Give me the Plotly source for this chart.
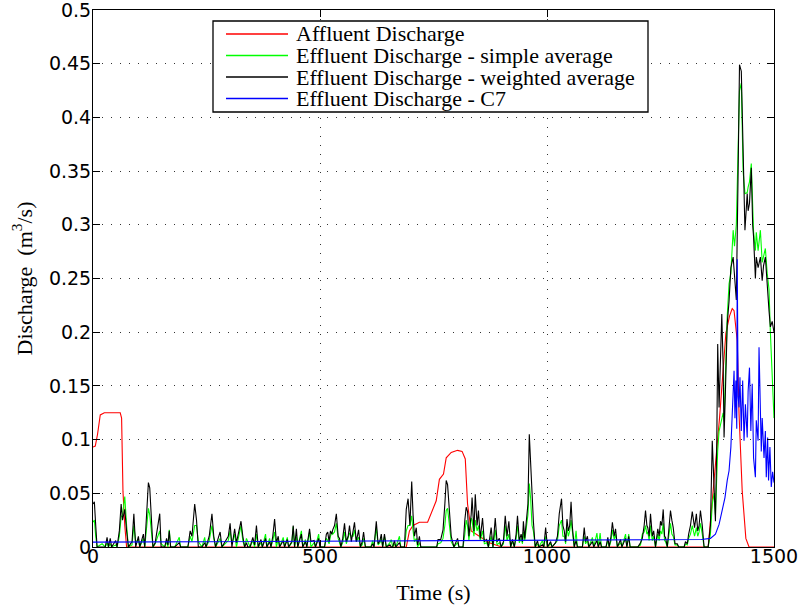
import plotly.graph_objects as go

# ---------------- data ----------------
t_aff = [0, 5, 10, 16, 25, 60, 63, 66, 70, 74, 690, 697, 705, 719, 737, 748, 756, 763, 772,
         778, 789, 803, 813, 820, 825, 833, 851, 873, 900, 1355, 1364, 1380, 1394, 1402,
         1408, 1412, 1419, 1423, 1430, 1438, 1445, 1500]
q_aff = [0.093, 0.094, 0.105, 0.123, 0.125, 0.125, 0.12, 0.052, 0.02, 0, 0, 0.015, 0.02,
         0.023, 0.023, 0.034, 0.043, 0.063, 0.068, 0.083, 0.088, 0.09, 0.089, 0.082, 0.04,
         0.015, 0.01, 0.004, 0, 0, 0.043, 0.12, 0.199, 0.215, 0.222, 0.22, 0.192, 0.124,
         0.052, 0.008, 0, 0]

t_eff = [0, 3, 6, 9, 20, 27, 31, 34, 38, 41,
         50, 53, 58, 62, 65, 70, 74, 78, 86, 90,
         94, 100, 103, 111, 114, 118, 122, 125, 129, 132,
         137, 147, 150, 158, 162, 165, 168, 171, 180, 190,
         193, 209, 214, 218, 224, 228, 232, 240, 246, 249,
         256, 262, 266, 270, 280, 284, 298, 302, 306, 312,
         316, 322, 326, 330, 334, 338, 341, 346, 352, 356,
         360, 364, 370, 373, 380, 383, 389, 392, 396, 400,
         404, 408, 411, 419, 422, 428, 431, 438, 441, 444,
         448, 451, 459, 462, 468, 471, 477, 480, 487, 490,
         497, 500, 510, 514, 517, 520, 523, 526, 528, 532,
         536, 540, 543, 546, 550, 554, 558, 562, 565, 569,
         573, 576, 580, 585, 589, 593, 596, 600, 612, 616,
         619, 621, 624, 628, 632, 635, 638, 642, 646, 654,
         657, 660, 664, 667, 675, 678, 686, 690, 694, 698,
         702, 705, 708, 712, 715, 719, 722, 757, 760, 766,
         771, 775, 778, 781, 785, 789, 795, 803, 806, 815,
         819, 822, 825, 828, 833, 835, 839, 842, 846, 849,
         853, 858, 862, 867, 871, 877, 881, 886, 890, 895,
         899, 904, 908, 912, 916, 920, 924, 928, 932, 935,
         939, 943, 946, 948, 951, 954, 958, 961, 964, 967,
         970, 974, 979, 982, 990, 993, 997, 1001, 1008, 1011,
         1019, 1023, 1027, 1032, 1035, 1038, 1041, 1044, 1047, 1050,
         1053, 1056, 1060, 1064, 1067, 1078, 1082, 1085, 1089, 1092,
         1100, 1103, 1110, 1113, 1117, 1120, 1130, 1134, 1137, 1141,
         1144, 1148, 1151, 1155, 1162, 1165, 1173, 1176, 1180, 1183,
         1200, 1206, 1210, 1214, 1217, 1220, 1222, 1225, 1228, 1232,
         1235, 1239, 1244, 1247, 1250, 1253, 1256, 1259, 1261, 1265,
         1268, 1272, 1275, 1278, 1282, 1287, 1290, 1302, 1305, 1309,
         1312, 1316, 1320, 1323, 1325, 1329, 1332, 1335, 1338, 1342,
         1346, 1355, 1360, 1364, 1368, 1371, 1374, 1376, 1379, 1385,
         1388, 1390, 1393, 1397, 1401, 1405, 1410, 1413, 1417, 1421,
         1424, 1428, 1432, 1436, 1441, 1443, 1446, 1450, 1453, 1455,
         1459, 1461, 1465, 1470, 1474, 1477, 1481, 1485, 1489, 1492,
         1496, 1500]

q_weighted = [.04, .042, .02, 0, 0, 0, .009, 0, .008, 0,
              .006, 0, .015, .04, .025, .035, .015, 0, .005, .031,
              0, .01, 0, .012, 0, .03, .06, .055, .015, 0,
              .004, .031, 0, 0, .008, .002, .015, 0, 0, .004,
              0, 0, .015, .01, .04, .025, 0, 0, .004, 0,
              .01, .031, .01, 0, .014, 0, .01, .022, 0, .017,
              .004, .018, .024, .01, 0, .004, 0, 0, .009, .002,
              .02, 0, .007, 0, .008, 0, .005, 0, .01, .026,
              .004, .01, 0, .006, 0, .007, 0, .005, .02, 0,
              .017, 0, .012, 0, .005, 0, .017, .005, .006, 0,
              .008, 0, 0, .012, .014, .005, .015, .012, .016, .02,
              .031, .01, .008, 0, .008, .022, .005, .01, .02, .005,
              .015, .023, .005, .016, 0, .005, .014, 0, 0, .003,
              0, .012, .024, .003, .006, .012, 0, .012, 0, .002,
              0, 0, .006, 0, .004, 0, 0, .035, .045, .02,
              .061, .03, .01, .018, .002, .01, 0, 0, .007, .007,
              .016, .04, .062, .058, .034, .01, 0, .008, 0, 0,
              .025, .037, .033, .01, .03, .046, .015, .049, .02, .034,
              .008, .027, .005, .007, 0, .018, 0, .027, .005, .008,
              0, .005, .029, .01, .024, 0, .007, 0, .012, .029,
              .006, .012, .005, .024, .008, .02, .04, .105, .077, .04,
              .024, 0, .006, 0, .002, 0, .018, 0, .005, 0,
              .004, .01, .031, .045, .02, .015, .005, .026, .015, .02,
              .042, .018, 0, .006, 0, 0, .018, .005, .01, 0,
              .005, 0, .006, 0, .005, 0, 0, .009, 0, .01,
              .023, .01, .017, 0, .007, 0, .008, 0, .01, 0,
              0, .004, .008, .02, .034, .02, .018, .01, .031, .01,
              .015, 0, .017, .01, .024, .02, .035, .01, .009, 0,
              .012, .034, .025, .018, .003, .003, 0, 0, .005, .003,
              .012, .02, .033, .02, .018, .031, .015, .02, .034, .02,
              0, 0, .02, .099, .049, .024, .099, .189, .13, .217,
              .168, .102, .145, .208, .229, .26, .27, .248, .23, .35,
              .449, .443, .36, .295, .329, .313, .32, .353, .3, .289,
              .25, .27, .26, .27, .248, .262, .27, .239, .22, .205,
              .21, .2]

q_simple = [.023, .025, .01, 0, .003, 0, .004, 0, .003, 0,
            .002, 0, .01, .028, .03, .047, .02, 0, .002, .02,
            .005, .006, 0, .008, 0, .02, .036, .03, .012, 0,
            .003, .015, .003, 0, .005, 0, .016, 0, 0, .009,
            0, 0, .01, .005, .02, .02, .005, 0, .009, 0,
            .006, .02, .008, 0, .008, 0, .006, .015, .003, .012,
            0, .012, .02, .006, 0, .008, .005, 0, .006, 0,
            .012, 0, .004, 0, .012, 0, .008, 0, .006, .014,
            0, .007, 0, .009, 0, .009, 0, .004, .019, 0,
            .01, 0, .015, 0, .007, 0, .014, 0, .004, 0,
            .012, 0, 0, .008, .006, .003, .01, .014, .012, .014,
            .022, .008, .004, 0, .004, .014, .003, .008, .013, .01,
            .01, .016, .005, .009, 0, .002, .008, 0, 0, .006,
            0, .008, .018, .002, .004, .008, 0, .01, 0, .004,
            .007, 0, .003, 0, .01, 0, 0, .015, .02, .02,
            .029, .015, .005, .008, 0, .004, 0, 0, .003, .004,
            .008, .02, .034, .036, .02, .005, 0, .004, 0, 0,
            .012, .025, .02, .006, .027, .025, .01, .025, .015, .02,
            .006, .015, .003, .004, 0, .01, 0, .016, .002, .004,
            0, .003, .02, .006, .012, 0, .005, 0, .008, .02,
            .004, .008, .003, .014, .006, .015, .03, .059, .045, .02,
            .015, 0, .003, 0, .006, 0, .01, 0, .003, 0,
            .004, .006, .02, .025, .01, .01, .003, .018, .01, .015,
            .025, .012, 0, .015, 0, 0, .01, .003, .006, 0,
            .009, 0, .013, 0, .013, 0, 0, .006, 0, .006,
            .016, .007, .012, 0, .004, 0, .012, 0, .012, 0,
            0, .002, .012, .014, .02, .012, .014, .006, .02, .006,
            .01, 0, .012, .006, .015, .012, .022, .006, .005, 0,
            .008, .022, .012, .01, .002, .002, 0, 0, .003, .002,
            .008, .012, .02, .013, .01, .018, .01, .014, .022, .012,
            0, 0, .012, .04, .05, .03, .07, .09, .108, .12,
            .125, .117, .161, .215, .245, .255, .295, .28, .3, .37,
            .425, .432, .35, .329, .33, .335, .34, .357, .32, .293,
            .276, .293, .276, .295, .265, .27, .278, .255, .24, .2,
            .15, .12]

t_c7 = [0, 700, 1000, 1340, 1360, 1371, 1379, 1386, 1392, 1397, 1401, 1405, 1408, 1410,
        1412, 1414, 1416, 1418, 1419, 1421, 1423, 1425, 1428, 1431, 1434, 1437, 1441, 1443,
        1446, 1449, 1452, 1455, 1459, 1461, 1465, 1467, 1469, 1472, 1474, 1478, 1481, 1483,
        1486, 1488, 1491, 1494, 1497, 1500]
q_c7 = [0.0045, 0.0055, 0.006, 0.007, 0.008, 0.012, 0.021, 0.034, 0.046, 0.062, 0.071,
        0.093, 0.118, 0.145, 0.164, 0.12, 0.155, 0.11, 0.268, 0.14, 0.13, 0.158, 0.108,
        0.155, 0.099, 0.133, 0.102, 0.145, 0.167, 0.108, 0.152, 0.083, 0.065, 0.118, 0.099,
        0.186, 0.13, 0.089, 0.12, 0.083, 0.108, 0.065, 0.102, 0.062, 0.093, 0.056, 0.07, 0.06]

series_names = ["Affluent Discharge",
                "Effluent Discharge - simple average",
                "Effluent Discharge - weighted average",
                "Effluent Discharge - C7"]
series_colors = ["#ff0000", "#00ff00", "#000000", "#0000ff"]

x_ticks = [0, 500, 1000, 1500]
y_ticks = [0, 0.05, 0.1, 0.15, 0.2, 0.25, 0.3, 0.35, 0.4, 0.45, 0.5]
y_tick_text = ["0", "0.05", "0.1", "0.15", "0.2", "0.25", "0.3", "0.35", "0.4", "0.45", "0.5"]

assert len(t_eff) == len(q_simple) == len(q_weighted)
assert len(t_aff) == len(q_aff) and len(t_c7) == len(q_c7)

# ---------------- layout constants ----------------
W, H = 800, 610
ML, MR, MT, MB = 93, 26, 10, 63
PW, PH = W - ML - MR, H - MT - MB
serif = "Liberation Serif"
sans = "DejaVu Sans"


def px_x(p):   # pixel -> paper x
    return (p - ML) / PW


def px_y(p):   # pixel -> paper y
    return 1 - (p - MT) / PH


# ---------------- figure ----------------
fig = go.Figure()
xs = [t_aff, t_eff, t_eff, t_c7]
ys = [q_aff, q_simple, q_weighted, q_c7]
for x, y, name, col in zip(xs, ys, series_names, series_colors):
    fig.add_trace(go.Scatter(x=x, y=y, mode="lines", name=name, showlegend=False,
                             line=dict(color=col, width=1.1)))

axis_common = dict(
    showline=True, linecolor="black", linewidth=1, mirror="ticks",
    ticks="inside", ticklen=7, tickcolor="black", tickwidth=1,
    showgrid=True, gridcolor="#333333", gridwidth=1, griddash="1px,8px",
    zeroline=False, automargin=False, ticklabeloverflow="allow",
    tickfont=dict(family=sans, size=19, color="black"),
)

fig.update_xaxes(range=[0, 1500], tickvals=x_ticks, ticktext=[str(v) for v in x_ticks],
                 ticklabelstandoff=-8,
                 title=dict(text="Time (s)", font=dict(family=serif, size=22, color="black"),
                            standoff=18),
                 **axis_common)
fig.update_yaxes(range=[0, 0.5], tickvals=y_ticks, ticktext=y_tick_text,
                 ticklabelstandoff=-3,
                 title=dict(text="Discharge  (m<sup>3</sup>/s)",
                            font=dict(family=serif, size=22, color="black"), standoff=10),
                 **axis_common)

# ---------------- legend (drawn as a box with line samples and text) ----------------
box_l, box_r, box_t, box_b = 213, 648, 21, 112
row_y = [34, 55.5, 77, 98.5]
shapes = [dict(type="rect", xref="paper", yref="paper",
               x0=px_x(box_l), x1=px_x(box_r), y0=px_y(box_b), y1=px_y(box_t),
               line=dict(color="black", width=1.3), fillcolor="white", layer="above")]
annotations = []
for name, col, ry in zip(series_names, series_colors, row_y):
    shapes.append(dict(type="line", xref="paper", yref="paper",
                       x0=px_x(226), x1=px_x(288), y0=px_y(ry), y1=px_y(ry),
                       line=dict(color=col, width=1.3), layer="above"))
    annotations.append(dict(text=name, xref="paper", yref="paper",
                            x=px_x(294), y=px_y(ry), xanchor="left", yanchor="middle",
                            showarrow=False,
                            font=dict(family=serif, size=22, color="black")))

fig.update_layout(
    width=W, height=H,
    margin=dict(l=ML, r=MR, t=MT, b=MB),
    paper_bgcolor="white", plot_bgcolor="white",
    showlegend=False,
    shapes=shapes, annotations=annotations,
)

fig.write_html("out.html", config={"displayModeBar": False},
               post_script="document.body.style.margin='0';document.body.style.padding='0';")
